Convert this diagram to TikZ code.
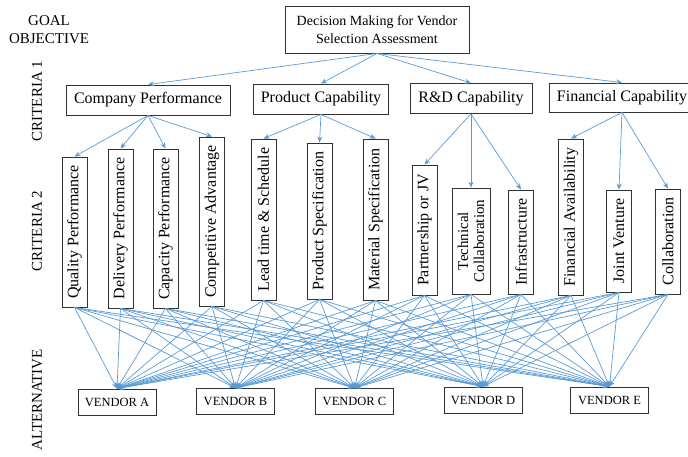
\documentclass[tikz,border=0pt]{standalone}
\usepackage{fontspec}
\setmainfont{Liberation Serif}
\usetikzlibrary{arrows.meta}
\definecolor{linkblue}{RGB}{91,155,213}
\tikzset{
  box/.style={draw=black!80, line width=0.9pt, inner sep=2pt, align=center,
    font=\fontsize{16}{18}\selectfont},
  crit/.style={box, minimum height=30pt},
  vbox/.style={box, rotate=90, minimum height=25pt},
  vendor/.style={box, minimum width=78pt, minimum height=26pt,
    font=\fontsize{12.5}{14}\selectfont},
  level/.style={align=center, font=\fontsize{15}{18}\selectfont},
  link/.style={draw=linkblue, line width=0.7pt, -{Stealth[length=6pt,width=5pt]}},
}
\begin{document}
\begin{tikzpicture}[x=1pt, y=-1pt]
\useasboundingbox (0,0) rectangle (688,456);

% level names
\node[level] (goallbl) at (49,30) {GOAL\\OBJECTIVE};
\node[level, rotate=90] (c1lbl) at (37,101) {CRITERIA 1};
\node[level, rotate=90] (c2lbl) at (37,231) {CRITERIA 2};
\node[level, rotate=90] (altlbl) at (37,400) {ALTERNATIVE};

% goal
\node[box, minimum width=184pt, minimum height=47pt, font=\fontsize{14}{18}\selectfont]
  (goal) at (377,29.5) {Decision Making for Vendor\\Selection Assessment};

% criteria 1
\node[crit, minimum width=164pt] (comp) at (148,100) {Company Performance};
\node[crit, minimum width=135pt] (prod) at (321,99) {Product Capability};
\node[crit, minimum width=122pt] (rnd) at (471,98.5) {R\&D Capability};
\node[crit, minimum width=146pt, minimum height=29pt] (fin) at (622,97.5) {Financial Capability};

% criteria 2
\node[vbox, minimum width=150pt] (qual) at (74.5,232) {Quality Performance};
\node[vbox, minimum width=159pt] (deliv) at (120.5,228.5) {Delivery Performance};
\node[vbox, minimum width=159pt] (capac) at (165.5,228.5) {Capacity Performance};
\node[vbox, minimum width=169pt] (compet) at (212,221.5) {Competitive Advantage};
\node[vbox, minimum width=161pt] (lead) at (263.5,219.5) {Lead time \& Schedule};
\node[vbox, minimum width=156pt] (prodspec) at (319.5,221) {Product Specification};
\node[vbox, minimum width=161pt] (matspec) at (375.5,219.5) {Material Specification};
\node[vbox, minimum width=130pt] (partner) at (424.5,230) {Partnership or JV};
\node[vbox, minimum width=106pt, minimum height=38pt, font=\fontsize{15}{16}\selectfont]
  (techcol) at (471,241) {Technical\\Collaboration};
\node[vbox, minimum width=104pt] (infra) at (521,242) {Infrastructure};
\node[vbox, minimum width=156pt] (finavail) at (571,217) {Financial Availability};
\node[vbox, minimum width=102pt] (joint) at (619,241) {Joint Venture};
\node[vbox, minimum width=105pt] (collab) at (668,241.5) {Collaboration};

% alternatives
\node[vendor] (vA) at (117,402) {VENDOR A};
\node[vendor] (vB) at (235.5,401.5) {VENDOR B};
\node[vendor] (vC) at (354.5,401.5) {VENDOR C};
\node[vendor] (vD) at (483,400) {VENDOR D};
\node[vendor] (vE) at (609.5,400) {VENDOR E};

% goal to criteria 1
\foreach \c in {comp,prod,rnd,fin}
  \draw[link] (goal.south) -- (\c.north);

% criteria 1 to criteria 2
\foreach \c in {qual,deliv,capac,compet}
  \draw[link] (comp.south) -- (\c.east);
\foreach \c in {lead,prodspec,matspec}
  \draw[link] (prod.south) -- (\c.east);
\foreach \c in {partner,techcol,infra}
  \draw[link] (rnd.south) -- (\c.east);
\foreach \c in {finavail,joint,collab}
  \draw[link] (fin.south) -- (\c.east);

% criteria 2 to alternatives
\foreach \c in {qual,deliv,capac,compet,lead,prodspec,matspec,partner,techcol,infra,finavail,joint,collab}
  \foreach \v in {vA,vB,vC,vD,vE}
    \draw[link] (\c.west) -- (\v.north);
\end{tikzpicture}
\end{document}
